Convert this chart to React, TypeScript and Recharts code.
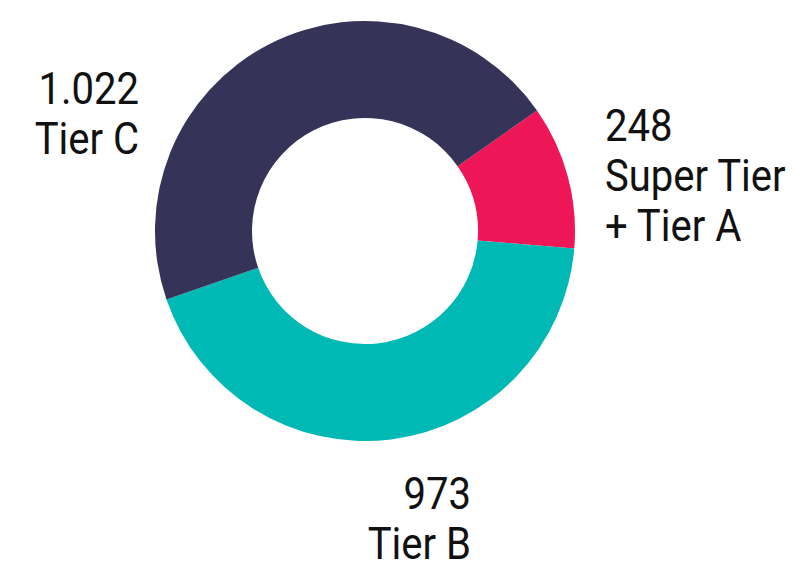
import React from "react";
import { PieChart, Pie, Cell } from "recharts";

// Data
const tiers = ["Super Tier\n+ Tier A", "Tier B", "Tier C"];
const counts = [248, 973, 1022];
const countLabels = ["248", "973", "1.022"];

const colors = ["#EE1656", "#00B8B4", "#353358"];

// label placement relative to the pie centre
const labelPos = [
  { dx: 240, dy: -90, anchor: "start" },
  { dx: 106, dy: 278, anchor: "end" },
  { dx: -226, dy: -127, anchor: "end" },
];

const data = tiers.map((name, i) => ({ name, value: counts[i], display: countLabels[i] }));

function renderLabel(props: any) {
  const { cx, cy, index } = props;
  const pos = labelPos[index];
  const lines = [countLabels[index], ...tiers[index].split("\n")];
  return (
    <g transform={`translate(${cx + pos.dx},${cy + pos.dy}) scale(0.91,1)`}>
      <text
        x={0}
        y={0}
        textAnchor={pos.anchor}
        fill="#111"
        fontFamily="Roboto, sans-serif"
        fontSize={44}
      >
        {lines.map((l, i) => (
          <tspan key={i} x={0} dy={i === 0 ? 0 : 50}>
            {l}
          </tspan>
        ))}
      </text>
    </g>
  );
}

export default function App() {
  return (
    <div style={{ position: "absolute", left: 0, top: 0, width: 794, height: 563, background: "#fff" }}>
      <PieChart width={794} height={563}>
        <Pie
          data={data}
          dataKey="value"
          nameKey="name"
          cx={360}
          cy={226}
          innerRadius={113}
          outerRadius={210}
          startAngle={35}
          endAngle={-325}
          stroke="none"
          labelLine={false}
          label={renderLabel}
          isAnimationActive={false}
        >
          {data.map((d, i) => (
            <Cell key={d.name} fill={colors[i]} />
          ))}
        </Pie>
      </PieChart>
    </div>
  );
}
